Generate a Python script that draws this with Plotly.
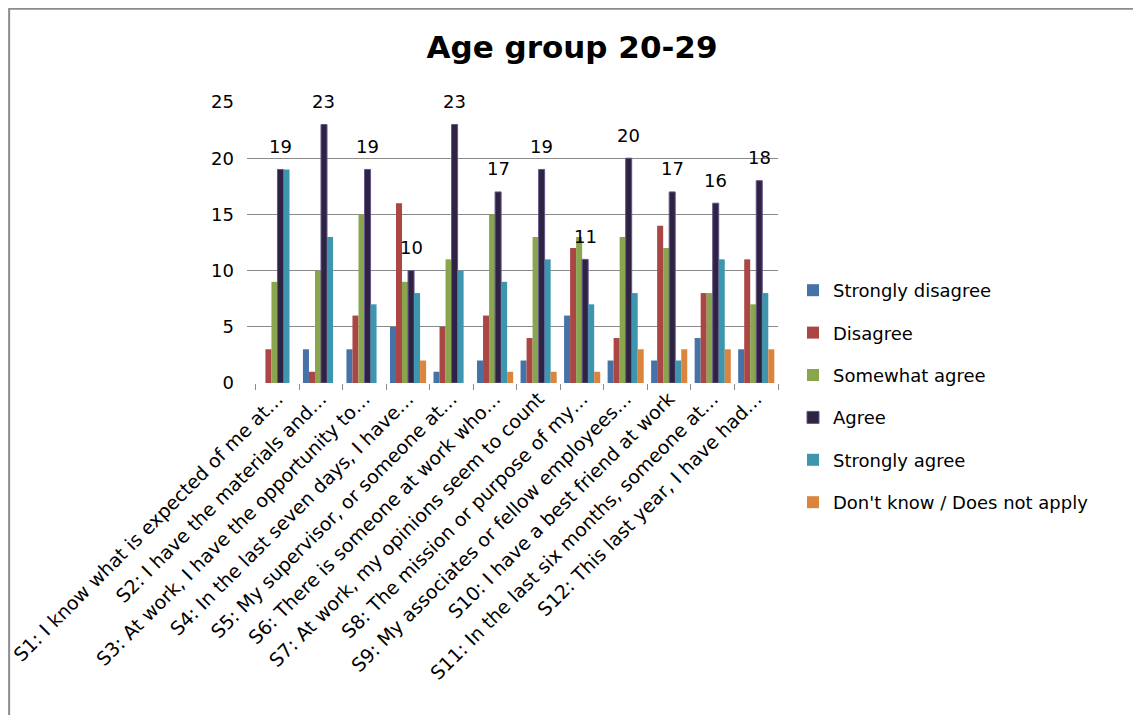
import plotly.graph_objects as go

# Survey statements (truncated as in the chart)
statements = [
    "S1: I know what is expected of me at…",
    "S2: I have the materials and…",
    "S3: At work, I have the opportunity to…",
    "S4: In the last seven days, I have…",
    "S5: My supervisor, or someone at…",
    "S6: There is someone at work who…",
    "S7: At work, my opinions seem to count",
    "S8: The mission or purpose of my…",
    "S9: My associates or fellow employees…",
    "S10: I have a best friend at work",
    "S11: In the last six months, someone at…",
    "S12: This last year, I have had…",
]

strongly_disagree = [0, 3, 3, 5, 1, 2, 2, 6, 2, 2, 4, 3]
disagree = [3, 1, 6, 16, 5, 6, 4, 12, 4, 14, 8, 11]
somewhat_agree = [9, 10, 15, 9, 11, 15, 13, 13, 13, 12, 8, 7]
agree = [19, 23, 19, 10, 23, 17, 19, 11, 20, 17, 16, 18]
strongly_agree = [19, 13, 7, 8, 10, 9, 11, 7, 8, 2, 11, 8]
dont_know = [0, 0, 0, 2, 0, 1, 1, 1, 3, 3, 3, 3]

series = [
    ("Strongly disagree", strongly_disagree, "#4572a7", None),
    ("Disagree", disagree, "#aa4643", None),
    ("Somewhat agree", somewhat_agree, "#89a54e", None),
    ("Agree", agree, "#2e2343", "#65548a"),
    ("Strongly agree", strongly_agree, "#3d96ae", None),
    ("Don't know / Does not apply", dont_know, "#db843d", None),
]

FONT = "'DejaVu Sans', sans-serif"

# page has an 8px body margin; figure sized to fit inside the window
W, H = 1133, 707


def px(x):
    return (x - 8) / W


def py(y):
    return 1 - (y - 8) / H


fig = go.Figure()
for i, (name, vals, color, edge) in enumerate(series):
    fig.add_trace(go.Bar(
        x=statements,
        y=vals,
        name=name,
        legendgroup="g%d" % i,
        marker=dict(color=color,
                    line=dict(color=edge or color, width=1 if edge else 0))))

# value labels on the "Agree" bars only
for s, v in zip(statements, agree):
    fig.add_annotation(
        x=s, y=v, text=str(v), showarrow=False,
        xshift=3, yshift=23, yanchor="middle",
        font=dict(size=18, color="black", family=FONT))

# outer chart border
fig.add_shape(type="rect", xref="paper", yref="paper",
              x0=0.001, x1=1.05, y0=-0.05, y1=0.999,
              line=dict(color="#8c8c8c", width=2))

fig.update_layout(
    width=W, height=H,
    margin=dict(l=0, r=0, t=0, b=0, autoexpand=False),
    paper_bgcolor="white", plot_bgcolor="white",
    font=dict(family=FONT, color="black"),
    title=dict(text="<b>Age group 20-29</b>", x=px(572), y=py(47),
               xanchor="center", yanchor="middle", automargin=False,
               font=dict(size=31, family=FONT, color="black")),
    barmode="group", bargap=0.17, bargroupgap=0,
    showlegend=True,
    legend=dict(x=px(793), y=py(272), xanchor="left", yanchor="top",
                font=dict(size=18, family=FONT), tracegroupgap=16,
                bgcolor="rgba(0,0,0,0)"),
)
fig.update_xaxes(
    domain=[px(247), px(778)], range=[-0.7, 11.5], automargin=False,
    tickangle=-45, tickfont=dict(size=19, family=FONT),
    ticks="outside", tickson="boundaries", ticklen=6, tickcolor="#8c8c8c",
    showline=False, showgrid=False)
fig.update_yaxes(
    domain=[py(383), py(102)], range=[0, 25],
    automargin=False,
    tickvals=[0, 5, 10, 15, 20, 25], tickfont=dict(size=18, family=FONT),
    ticklabelstandoff=12,
    showgrid=True, gridcolor="#8a8a8a", gridwidth=1,
    zeroline=True, zerolinecolor="white", showline=False)

fig.write_html("out.html")
